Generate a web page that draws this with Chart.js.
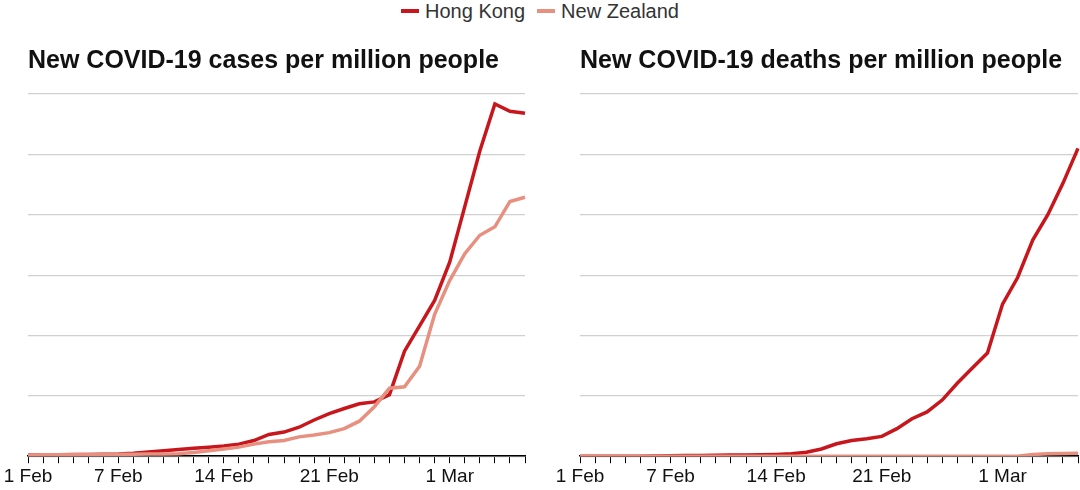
<!DOCTYPE html>
<html>
<head>
<script src="https://cdn.jsdelivr.net/npm/chart.js"></script>
<style>
  body { margin: 0; width: 1080px; height: 490px; overflow: hidden; background: #fff; font-family: "Liberation Sans", Arial, sans-serif; position: relative; }
  .legend { position: absolute; top: 0; left: 0; width: 1080px; text-align: center; font-size: 20px; color: #333; }
  .legend span { display: inline-block; margin: 0 6px; }
  .legend i { display: inline-block; width: 18px; height: 4px; vertical-align: middle; margin-right: 6px; position: relative; top: -2px; }
  #c1 { position: absolute; left: 0; top: 36px; }
  #c2 { position: absolute; left: 548px; top: 36px; }
</style>
</head>
<body>
<div class="legend"><span><i style="background:#c8161d"></i>Hong Kong</span><span><i style="background:#e8907f"></i>New Zealand</span></div>
<canvas id="c1" width="548" height="454"></canvas>
<canvas id="c2" width="572" height="454"></canvas>
<script>
const dates = ['1 Feb','2 Feb','3 Feb','4 Feb','5 Feb','6 Feb','7 Feb','8 Feb','9 Feb','10 Feb','11 Feb','12 Feb','13 Feb','14 Feb','15 Feb','16 Feb','17 Feb','18 Feb','19 Feb','20 Feb','21 Feb','22 Feb','23 Feb','24 Feb','25 Feb','26 Feb','27 Feb','28 Feb','1 Mar','2 Mar','3 Mar','4 Mar','5 Mar','6 Mar']
const shownDates = ['1 Feb','7 Feb','14 Feb','21 Feb','1 Mar']
const hkCases = [20,22,25,28,30,33,38,50,70,90,110,130,150,170,200,260,360,400,480,600,707,790,868,900,1020,1740,2160,2580,3215,4135,5055,5836,5713,5680]
const nzCases = [20,22,24,26,28,30,32,34,36,38,40,60,90,120,150,200,240,260,320,350,390,457,580,820,1125,1150,1490,2350,2910,3355,3660,3800,4220,4290]
const hkDeaths = [0,0,0,0,0,0.02,0.03,0.05,0.06,0.08,0.1,0.1,0.12,0.15,0.2,0.33,0.6,1.03,1.3,1.45,1.64,2.28,3.1,3.67,4.65,6.04,7.3,8.55,12.6,14.8,17.9,20,22.6,25.5]
const nzDeaths = [0,0,0,0,0,0,0,0,0,0,0,0,0,0,0,0,0,0,0,0,0,0,0,0,0,0,0,0,0,0,0.15,0.2,0.22,0.25]
const caseTicks = {0:'0',1000:'1',2000:'2',3000:'3',4000:'4',5000:'5',6000:'6000'}

const font = { family: '"Liberation Sans", Arial, sans-serif', size: 19 }

// labels sit inside the plot's left edge, like the original
const makeChart = (id, title, hk, nz, yMax, yStep, tickFn, padLeft, padRight, labelShift) => {
    return new Chart(document.getElementById(id), {
        type: 'line',
        data: {
            labels: dates,
            datasets: [
                { label: 'New Zealand', data: nz, borderColor: '#e8907f', borderWidth: 3.5, pointRadius: 0, tension: 0 },
                { label: 'Hong Kong', data: hk, borderColor: '#c8161d', borderWidth: 3.5, pointRadius: 0, tension: 0 }
            ]
        },
        options: {
            responsive: false,
            animation: false,
            layout: { padding: { left: padLeft, right: padRight, top: 0, bottom: 0 } },
            plugins: {
                legend: { display: false },
                tooltip: { enabled: false },
                title: { display: true, text: title, align: 'start', color: '#111', font: { family: font.family, size: 25, weight: 'bold' }, padding: { top: 10, bottom: 18 } }
            },
            scales: {
                x: {
                    offset: false,
                    border: { display: true, color: '#000', width: 1.5 },
                    grid: { drawOnChartArea: false, tickLength: 7, color: '#000', offset: false },
                    ticks: {
                        autoSkip: false, maxRotation: 0, color: '#111', font: font, padding: 2,
                        callback: (v, i) => shownDates.includes(dates[i]) ? dates[i] : ''
                    }
                },
                y: {
                    min: 0, max: yMax,
                    border: { display: false },
                    grid: { color: '#d0d0d0', lineWidth: 1.2, drawTicks: false },
                    ticks: { stepSize: yStep, mirror: true, color: '#111', font: font, padding: labelShift, callback: tickFn }
                }
            }
        }
    })
}

makeChart('c1', 'New COVID-19 cases per million people', hkCases, nzCases, 6000, 1000, v => caseTicks[v], 28, 23, -24)
makeChart('c2', 'New COVID-19 deaths per million people', hkDeaths, nzDeaths, 30, 5, v => v, 32, 42, -28)
</script>
</body>
</html>
